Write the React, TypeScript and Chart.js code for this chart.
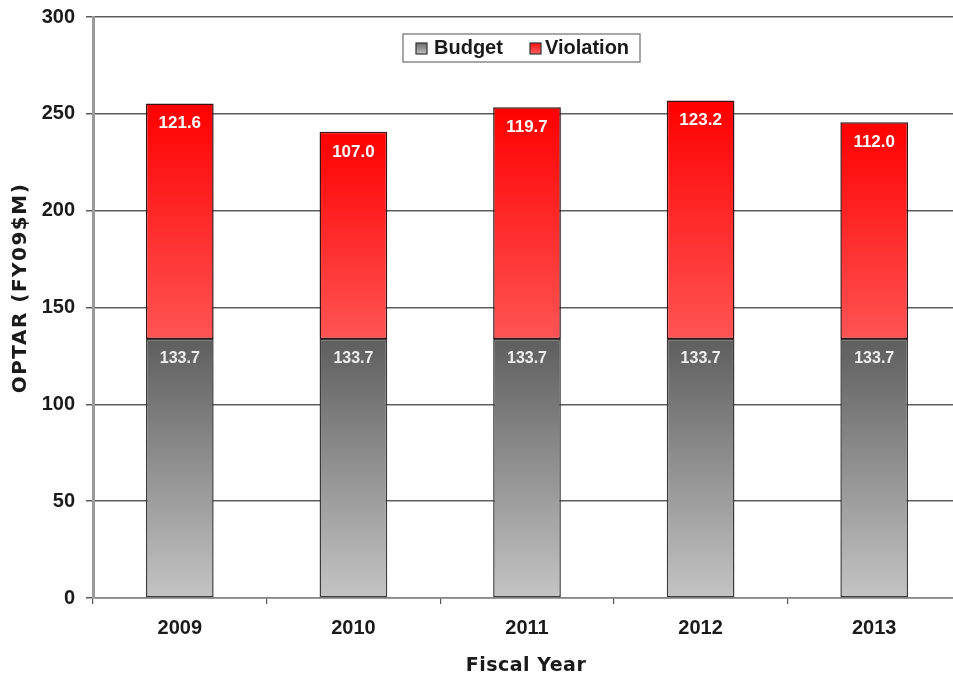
import React, { useEffect, useRef } from "react";
import { Chart, registerables } from "chart.js";

Chart.register(...registerables);

const categories = ["2009", "2010", "2011", "2012", "2013"];
const budget = [133.7, 133.7, 133.7, 133.7, 133.7];
const violation = [121.6, 107.0, 119.7, 123.2, 112.0];
const yTicks = [0, 50, 100, 150, 200, 250, 300];
const seriesNames = ["Budget", "Violation"];
const yTitle = "OPTAR (FY09$M)";
const xTitle = "Fiscal Year";

const W = 970;
const H = 679;
const ARIAL = "'Liberation Sans', Arial, sans-serif";

export default function App() {
  const ref = useRef<HTMLCanvasElement | null>(null);

  useEffect(() => {
    const canvas = ref.current;
    if (!canvas) return;

    const grayGrad = (chart: any, i: number) => {
      const y = chart.scales.y;
      if (!y || !chart.chartArea) return "#888";
      const g = chart.ctx.createLinearGradient(0, y.getPixelForValue(budget[i]), 0, y.getPixelForValue(0));
      g.addColorStop(0, "#5e5e5e");
      g.addColorStop(1, "#c4c4c4");
      return g;
    };
    const redGrad = (chart: any, i: number) => {
      const y = chart.scales.y;
      if (!y || !chart.chartArea) return "#f00";
      const g = chart.ctx.createLinearGradient(
        0,
        y.getPixelForValue(budget[i] + violation[i]),
        0,
        y.getPixelForValue(budget[i])
      );
      g.addColorStop(0, "#ff0000");
      g.addColorStop(1, "#ff5454");
      return g;
    };

    const overlay = {
      id: "overlay",
      afterDatasetsDraw(chart: any) {
        const ctx = chart.ctx;
        ctx.save();
        ctx.textAlign = "center";
        ctx.textBaseline = "middle";
        const m0 = chart.getDatasetMeta(0);
        const m1 = chart.getDatasetMeta(1);
        m0.data.forEach((bar: any, i: number) => {
          ctx.font = `bold 16px ${ARIAL}`;
          ctx.fillStyle = "#eeeeee";
          ctx.fillText(budget[i].toFixed(1), bar.x, bar.y + 20);
        });
        m1.data.forEach((bar: any, i: number) => {
          ctx.font = `bold 17px ${ARIAL}`;
          ctx.fillStyle = "#ffffff";
          ctx.fillText(violation[i].toFixed(1), bar.x, bar.y + 20);
        });
        ctx.restore();
      },
      afterDraw(chart: any) {
        const ctx = chart.ctx;
        ctx.save();
        // legend
        const lx = 403, ly = 34, lw = 237, lh = 28;
        ctx.fillStyle = "#fff";
        ctx.fillRect(lx, ly, lw, lh);
        ctx.strokeStyle = "#8a8a8a";
        ctx.lineWidth = 1.5;
        ctx.strokeRect(lx, ly, lw, lh);
        const items = [
          { x: 416, tx: 434, c1: "#6a6a6a", c2: "#c0c0c0", label: seriesNames[0] },
          { x: 530, tx: 545, c1: "#ff1010", c2: "#ff6060", label: seriesNames[1] },
        ];
        items.forEach((it) => {
          const g = ctx.createLinearGradient(0, 43, 0, 54);
          g.addColorStop(0, it.c1);
          g.addColorStop(1, it.c2);
          ctx.fillStyle = g;
          ctx.fillRect(it.x, 43, 11, 11);
          ctx.strokeStyle = "#333";
          ctx.lineWidth = 1.2;
          ctx.strokeRect(it.x, 43, 11, 11);
          ctx.fillStyle = "#1a1a1a";
          ctx.font = `bold 20px ${ARIAL}`;
          ctx.textAlign = "left";
          ctx.textBaseline = "middle";
          ctx.fillText(it.label, it.tx, 48.5);
        });
        // axis titles
        ctx.fillStyle = "#1a1a1a";
        ctx.font = "bold 19px 'DejaVu Sans', sans-serif";
        ctx.textAlign = "center";
        ctx.textBaseline = "middle";
        (ctx as any).letterSpacing = "0.5px";
        ctx.fillText(xTitle, 526, 666);
        ctx.translate(21, 288);
        ctx.rotate(-Math.PI / 2);
        ctx.font = "bold 20px 'DejaVu Sans', sans-serif";
        (ctx as any).letterSpacing = "1.5px";
        ctx.fillText(yTitle, 0, 0);
        ctx.restore();
      },
    };

    const chart = new Chart(canvas, {
      type: "bar",
      data: {
        labels: categories,
        datasets: [
          {
            label: seriesNames[0],
            data: budget,
            backgroundColor: (c: any) => grayGrad(c.chart, c.dataIndex),
            borderColor: "#3a3a3a",
            borderWidth: 1.5,
            borderSkipped: false,
            barPercentage: 0.39,
            categoryPercentage: 1,
          },
          {
            label: seriesNames[1],
            data: violation,
            backgroundColor: (c: any) => redGrad(c.chart, c.dataIndex),
            borderColor: "#3a1010",
            borderWidth: 1.5,
            borderSkipped: false,
            barPercentage: 0.39,
            categoryPercentage: 1,
          },
        ],
      },
      options: {
        responsive: false,
        animation: false,
        devicePixelRatio: 1,
        layout: { padding: { top: 17, right: 9, bottom: 0, left: 0 } },
        plugins: {
          legend: { display: false },
          tooltip: { enabled: false },
          title: { display: false },
        },
        scales: {
          x: {
            stacked: true,
            offset: true,
            grid: {
              offset: true,
              drawOnChartArea: false,
              drawTicks: true,
              tickLength: 6,
              color: "#555",
              lineWidth: 1.2,
            },
            border: { display: true, color: "#888", width: 1.5 },
            ticks: {
              color: "#1a1a1a",
              font: { family: ARIAL, size: 20, weight: "bold" },
              padding: 12,
            },
            afterFit: (s: any) => {
              s.height = 81;
              s.paddingLeft = 0;
              s.paddingRight = 0;
            },
          },
          y: {
            stacked: true,
            min: 0,
            max: 300,
            afterBuildTicks: (s: any) => {
              s.ticks = yTicks.map((v) => ({ value: v }));
            },
            grid: {
              color: "#5c5c5c",
              lineWidth: 1.5,
              drawTicks: true,
              tickLength: 7,
            },
            border: { display: true, color: "#9a9a9a", width: 3 },
            ticks: {
              color: "#1a1a1a",
              font: { family: ARIAL, size: 20, weight: "bold" },
              padding: 11,
            },
            afterFit: (s: any) => {
              s.width = 93;
              s.paddingTop = 0;
              s.paddingBottom = 0;
            },
          },
        },
      },
      plugins: [overlay],
    });

    return () => chart.destroy();
  }, []);

  return (
    <div
      style={{
        position: "absolute",
        left: 0,
        top: 0,
        width: 953,
        height: 679,
        overflow: "hidden",
        background: "#fff",
      }}
    >
      <canvas ref={ref} width={W} height={H} style={{ display: "block", width: W, height: H }} />
    </div>
  );
}
